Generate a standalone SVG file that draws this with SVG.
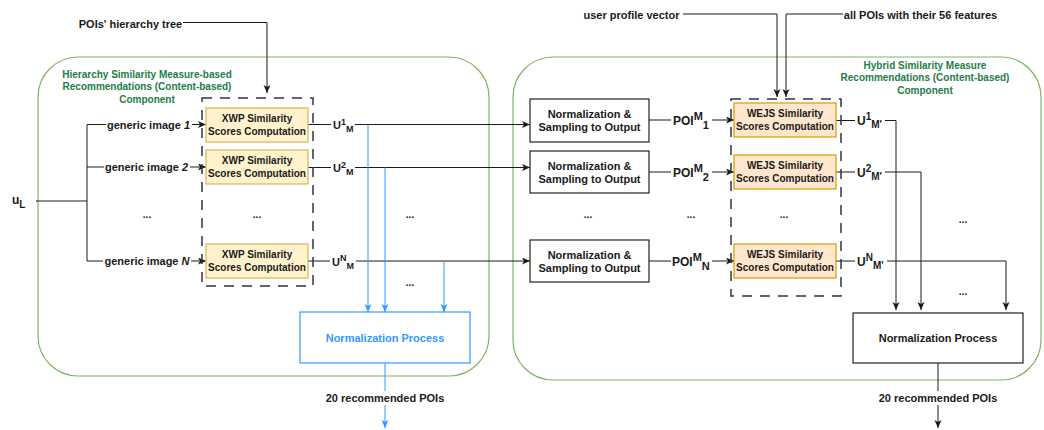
<svg xmlns="http://www.w3.org/2000/svg" width="1044" height="430" viewBox="0 0 1044 430">
<defs>
<style>
text{font-family:"Liberation Sans",Arial,sans-serif;font-weight:bold;fill:#1a1a1a}
.c{text-anchor:middle}
.f10{font-size:10px}
.f11{font-size:11px}
.green{fill:#1e7d46}
.blue{fill:#3399ff}
.cont{fill:none;stroke:#82b366;stroke-width:1.2}
.dash{fill:none;stroke:#333340;stroke-width:1.5;stroke-dasharray:10 8}
.xwp{fill:#fff2cc;stroke:#d6b656;stroke-width:1.2}
.wejs{fill:#ffe6cc;stroke:#d79b00;stroke-width:1.2}
.box{fill:#fff;stroke:#222;stroke-width:1.2}
.bbox{fill:#fff;stroke:#3399ff;stroke-width:1.2}
.ln{fill:none;stroke:#1a1a1a;stroke-width:1}
.bl{fill:none;stroke:#3399ff;stroke-width:1}
.bg{fill:#fff}
</style>
<marker id="ak" markerUnits="userSpaceOnUse" markerWidth="9" markerHeight="8" refX="8" refY="3.5" orient="auto">
<path d="M0,0 L8,3.5 L0,7 L2,3.5 Z" fill="#1a1a1a"/>
</marker>
<marker id="ab" markerUnits="userSpaceOnUse" markerWidth="9" markerHeight="8" refX="8" refY="3.5" orient="auto">
<path d="M0,0 L8,3.5 L0,7 L2,3.5 Z" fill="#3399ff"/>
</marker>
</defs>

<g id="containers">
<g id="left-component">
<rect class="cont" x="38" y="57" width="451" height="319" rx="40" ry="40"/>
<text class="c f10 green" x="147" y="77.5">Hierarchy Similarity Measure-based</text>
<text class="c f10 green" x="147" y="90">Recommendations (Content-based)</text>
<text class="c f10 green" x="147" y="102.5">Component</text>
</g>
<g id="right-component">
<rect class="cont" x="513" y="57" width="528" height="323" rx="40" ry="40"/>
<text class="c f10 green" x="925" y="68.5">Hybrid Similarity Measure</text>
<text class="c f10 green" x="925" y="81">Recommendations (Content-based)</text>
<text class="c f10 green" x="925" y="93.5">Component</text>
</g>
</g>

<g id="connectors">
<!-- top inputs -->
<path class="ln" d="M183,22.5 H267 V93" marker-end="url(#ak)"/>
<path class="ln" d="M683,14 H777 V97" marker-end="url(#ak)"/>
<path class="ln" d="M843,14 H786 V97" marker-end="url(#ak)"/>
<!-- uL fan-out -->
<path class="ln" d="M36,201 H87"/>
<path class="ln" d="M87,124.5 V261"/>
<path class="ln" d="M87,124.5 H206" marker-end="url(#ak)"/>
<path class="ln" d="M87,167 H206" marker-end="url(#ak)"/>
<path class="ln" d="M87,261 H206" marker-end="url(#ak)"/>
<!-- left outputs to right normalization boxes -->
<path class="ln" d="M308,124.5 H530" marker-end="url(#ak)"/>
<path class="ln" d="M308,167.5 H530" marker-end="url(#ak)"/>
<path class="ln" d="M308,261 H530" marker-end="url(#ak)"/>
<!-- blue to normalization process -->
<path class="bl" d="M368,124.5 V312" marker-end="url(#ab)"/>
<path class="bl" d="M385,167.5 V312" marker-end="url(#ab)"/>
<path class="bl" d="M444,261 V312" marker-end="url(#ab)"/>
<path class="bl" d="M385,363 V428" marker-end="url(#ab)"/>
<!-- POI lines -->
<path class="ln" d="M649,120 H734" marker-end="url(#ak)"/>
<path class="ln" d="M649,172 H734" marker-end="url(#ak)"/>
<path class="ln" d="M649,261 H734" marker-end="url(#ak)"/>
<!-- WEJS outputs -->
<path class="ln" d="M836,120.5 H896 V310" marker-end="url(#ak)"/>
<path class="ln" d="M836,172 H921 V310" marker-end="url(#ak)"/>
<path class="ln" d="M836,261 H1006 V310" marker-end="url(#ak)"/>
<path class="ln" d="M938,363 V428" marker-end="url(#ak)"/>

<!-- edge labels -->
<g id="label-generic-1"><rect class="bg" x="106" y="118" width="86" height="14"/><text class="c f11" x="148.5" y="128.5">generic image <tspan font-style="italic">1</tspan></text></g>
<g id="label-generic-2"><rect class="bg" x="104" y="161" width="86" height="14"/><text class="c f11" x="146.5" y="171">generic image <tspan font-style="italic">2</tspan></text></g>
<g id="label-generic-n"><rect class="bg" x="103" y="254" width="88" height="14"/><text class="c f11" x="147" y="265">generic image <tspan font-style="italic">N</tspan></text></g>

<g id="label-u1m"><rect class="bg" x="331" y="117" width="24" height="16"/><text x="333" y="129" font-size="11">U<tspan font-size="9" dy="-4.5">1</tspan><tspan font-size="9" dy="7.5">M</tspan></text></g>
<g id="label-u2m"><rect class="bg" x="331" y="160" width="24" height="16"/><text x="333" y="172" font-size="11">U<tspan font-size="9" dy="-4.5">2</tspan><tspan font-size="9" dy="7.5">M</tspan></text></g>
<g id="label-unm"><rect class="bg" x="330" y="253" width="26" height="16"/><text x="332" y="265.5" font-size="11">U<tspan font-size="9" dy="-4.5">N</tspan><tspan font-size="9" dy="7.5">M</tspan></text></g>

<g id="label-poi1"><rect class="bg" x="671" y="111" width="41" height="18"/><text x="673" y="125" font-size="12">POI<tspan font-size="11" dy="-5">M</tspan><tspan font-size="11" dy="9">1</tspan></text></g>
<g id="label-poi2"><rect class="bg" x="671" y="163" width="41" height="18"/><text x="673" y="177" font-size="12">POI<tspan font-size="11" dy="-5">M</tspan><tspan font-size="11" dy="9">2</tspan></text></g>
<g id="label-poin"><rect class="bg" x="671" y="252" width="41" height="18"/><text x="672" y="266" font-size="12">POI<tspan font-size="11" dy="-5">M</tspan><tspan font-size="11" dy="9">N</tspan></text></g>

<g id="label-u1mp"><rect class="bg" x="855" y="112" width="30" height="17"/><text x="857" y="125" font-size="12">U<tspan font-size="10" dy="-5">1</tspan><tspan font-size="10" dy="8">M'</tspan></text></g>
<g id="label-u2mp"><rect class="bg" x="855" y="163" width="30" height="17"/><text x="857" y="176.5" font-size="12">U<tspan font-size="10" dy="-5">2</tspan><tspan font-size="10" dy="8">M'</tspan></text></g>
<g id="label-unmp"><rect class="bg" x="855" y="252" width="32" height="17"/><text x="857" y="265.5" font-size="12">U<tspan font-size="10" dy="-5">N</tspan><tspan font-size="10" dy="8">M'</tspan></text></g>

<g id="label-out-left"><rect class="bg" x="324" y="391" width="122" height="14"/><text class="c f11" x="385" y="402">20 recommended POIs</text></g>
<g id="label-out-right"><rect class="bg" x="877" y="391" width="122" height="14"/><text class="c f11" x="938" y="402">20 recommended POIs</text></g>
</g>

<g id="inputs">
<g id="input-hierarchy-tree"><text class="c f11" x="130.5" y="27.5">POIs' hierarchy tree</text></g>
<g id="input-user-profile"><text class="c f11" x="631.5" y="19">user profile vector</text></g>
<g id="input-all-pois"><text class="c f11" x="920.5" y="19">all POIs with their 56 features</text></g>
<g id="input-uL"><text x="12" y="203.5" font-size="12">u<tspan font-size="10" dy="4">L</tspan></text></g>
</g>

<g id="left-group">
<rect class="dash" x="202" y="98" width="111" height="188"/>
</g>
<g id="xwp-1"><rect class="xwp" x="206" y="108" width="102" height="34"/><text class="c f10" x="257" y="122">XWP Similarity</text><text class="c f10" x="257" y="135">Scores Computation</text></g>
<g id="xwp-2"><rect class="xwp" x="206" y="150" width="102" height="34"/><text class="c f10" x="257" y="164">XWP Similarity</text><text class="c f10" x="257" y="177">Scores Computation</text></g>
<g id="xwp-n"><rect class="xwp" x="206" y="244" width="102" height="34"/><text class="c f10" x="257" y="258">XWP Similarity</text><text class="c f10" x="257" y="271">Scores Computation</text></g>

<g id="norm-left"><rect class="bbox" x="300" y="312" width="170" height="51"/><text class="c f11 blue" x="385" y="342">Normalization Process</text></g>

<g id="ns-1"><rect class="box" x="530" y="99" width="119" height="43"/><text class="c f11" x="589.5" y="118">Normalization &amp;</text><text class="c f11" x="589.5" y="131">Sampling to Output</text></g>
<g id="ns-2"><rect class="box" x="530" y="151" width="119" height="42"/><text class="c f11" x="589.5" y="169.5">Normalization &amp;</text><text class="c f11" x="589.5" y="182.5">Sampling to Output</text></g>
<g id="ns-n"><rect class="box" x="530" y="240" width="119" height="42"/><text class="c f11" x="589.5" y="258.5">Normalization &amp;</text><text class="c f11" x="589.5" y="271.5">Sampling to Output</text></g>

<g id="right-group">
<rect class="dash" x="731" y="99" width="110" height="197"/>
</g>
<g id="wejs-1"><rect class="wejs" x="734" y="103" width="102" height="34"/><text class="c f10" x="785" y="117">WEJS Similarity</text><text class="c f10" x="785" y="130">Scores Computation</text></g>
<g id="wejs-2"><rect class="wejs" x="734" y="155" width="102" height="34"/><text class="c f10" x="785" y="169">WEJS Similarity</text><text class="c f10" x="785" y="182">Scores Computation</text></g>
<g id="wejs-n"><rect class="wejs" x="734" y="244" width="102" height="34"/><text class="c f10" x="785" y="258">WEJS Similarity</text><text class="c f10" x="785" y="271">Scores Computation</text></g>

<g id="norm-right"><rect class="box" x="853" y="313" width="170" height="50"/><text class="c f11" x="938" y="342">Normalization Process</text></g>

<g id="ellipses">
<text class="c f10" x="147" y="218">...</text>
<text class="c f10" x="257" y="218">...</text>
<text class="c f10" x="410" y="218">...</text>
<text class="c f10" x="410" y="286">...</text>
<text class="c f10" x="588" y="218">...</text>
<text class="c f10" x="691" y="218">...</text>
<text class="c f10" x="784" y="218">...</text>
<text class="c f10" x="963" y="223">...</text>
<text class="c f10" x="963" y="295">...</text>
</g>
</svg>
